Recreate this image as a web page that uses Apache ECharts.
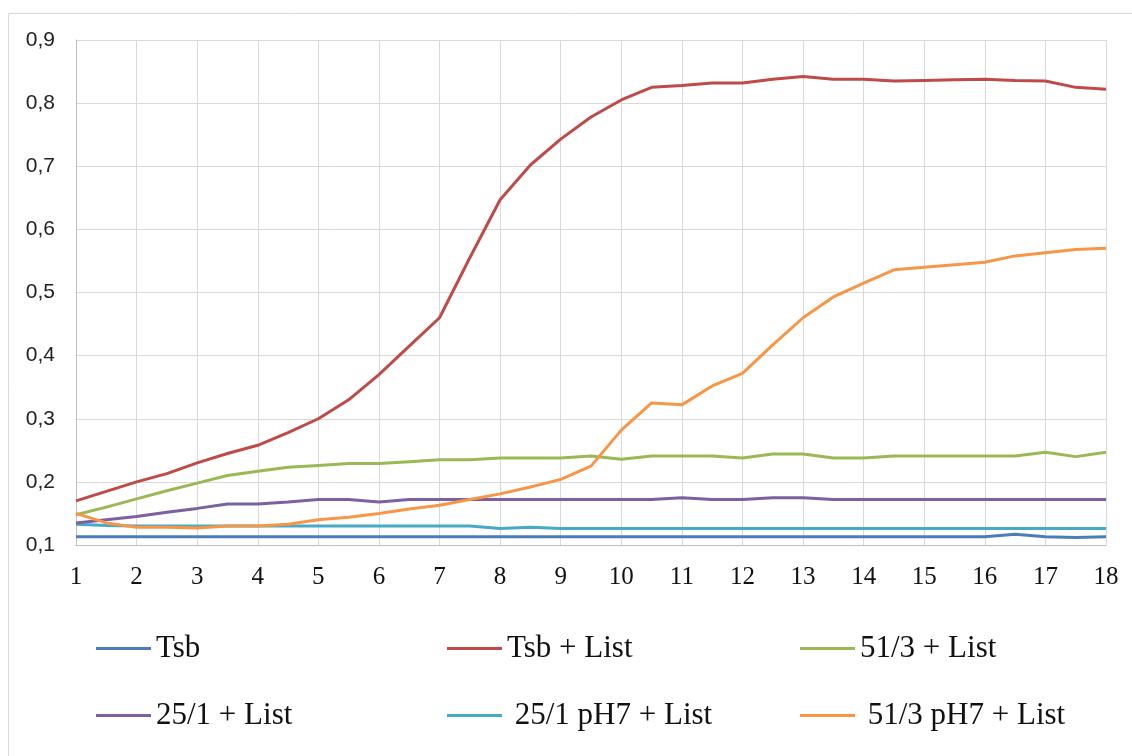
<!DOCTYPE html>
<html>
<head>
<meta charset="utf-8">
<script src="https://cdn.jsdelivr.net/npm/echarts@6/dist/echarts.min.js"></script>
<style>html,body{margin:0;padding:0;background:#fff}#c{width:1132px;height:756px}</style>
</head>
<body>
<div id="c"></div>
<script>
const xs = [1,1.5,2,2.5,3,3.5,4,4.5,5,5.5,6,6.5,7,7.5,8,8.5,9,9.5,10,10.5,11,11.5,12,12.5,13,13.5,14,14.5,15,15.5,16,16.5,17,17.5,18];
const seriesNames = ['Tsb','Tsb + List','51/3 + List','25/1 + List','25/1 pH7 + List','51/3 pH7 + List'];
const legendLabels = ['Tsb','Tsb + List','51/3 + List','25/1 + List',' 25/1 pH7 + List',' 51/3 pH7 + List'];
const tsb = [0.113,0.113,0.113,0.113,0.113,0.113,0.113,0.113,0.113,0.113,0.113,0.113,0.113,0.113,0.113,0.113,0.113,0.113,0.113,0.113,0.113,0.113,0.113,0.113,0.113,0.113,0.113,0.113,0.113,0.113,0.113,0.117,0.113,0.112,0.113];
const tsbList = [0.17,0.185,0.2,0.213,0.23,0.245,0.258,0.278,0.3,0.33,0.37,0.415,0.46,0.555,0.647,0.702,0.743,0.778,0.805,0.825,0.828,0.832,0.832,0.838,0.842,0.838,0.838,0.835,0.836,0.837,0.838,0.836,0.835,0.825,0.822];
const s513List = [0.148,0.16,0.173,0.186,0.198,0.21,0.217,0.223,0.226,0.229,0.229,0.232,0.235,0.235,0.238,0.238,0.238,0.241,0.236,0.241,0.241,0.241,0.238,0.244,0.244,0.238,0.238,0.241,0.241,0.241,0.241,0.241,0.247,0.24,0.247];
const s251List = [0.135,0.14,0.145,0.152,0.158,0.165,0.165,0.168,0.172,0.172,0.168,0.172,0.172,0.172,0.172,0.172,0.172,0.172,0.172,0.172,0.175,0.172,0.172,0.175,0.175,0.172,0.172,0.172,0.172,0.172,0.172,0.172,0.172,0.172,0.172];
const s251pH7 = [0.133,0.131,0.13,0.13,0.13,0.13,0.13,0.13,0.13,0.13,0.13,0.13,0.13,0.13,0.126,0.128,0.126,0.126,0.126,0.126,0.126,0.126,0.126,0.126,0.126,0.126,0.126,0.126,0.126,0.126,0.126,0.126,0.126,0.126,0.126];
const s513pH7 = [0.15,0.135,0.128,0.128,0.127,0.13,0.13,0.133,0.14,0.144,0.15,0.157,0.163,0.172,0.181,0.192,0.204,0.225,0.282,0.325,0.322,0.352,0.372,0.417,0.46,0.493,0.515,0.536,0.54,0.544,0.548,0.558,0.563,0.568,0.57];
const yTicks = ['0,1','0,2','0,3','0,4','0,5','0,6','0,7','0,8','0,9'];

const values = [tsb, tsbList, s513List, s251List, s251pH7, s513pH7];
const colors = ['#4a7ebb','#be4b48','#98b954','#7d60a0','#46aac5','#f79646'];

const chart = echarts.init(document.getElementById('c'), null, {renderer:'canvas'});

const series = values.map((v,i)=>({
  name: seriesNames[i],
  type: 'line',
  data: xs.map((x,j)=>[x, v[j]]),
  showSymbol: false,
  symbol: 'none',
  smooth: false,
  lineStyle: {color: colors[i], width: 3},
  itemStyle: {color: colors[i]},
  z: [1,6,4,3,2,5][i]
}));

const legends = [
  {names:[0], left:96, top:633},
  {names:[1], left:447, top:633},
  {names:[2], left:800, top:633},
  {names:[3], left:96, top:700},
  {names:[4], left:447, top:700},
  {names:[5], left:800, top:700}
].map(l=>({
  data: l.names.map(i=>seriesNames[i]),
  left: l.left, top: l.top,
  padding: 0,
  icon: 'rect', itemWidth: 55, itemHeight: 3, itemGap: 0,
  formatter: name => legendLabels[seriesNames.indexOf(name)],
  textStyle: {fontFamily: '"Liberation Serif", serif', fontSize: 31, color: '#111'}
}));

chart.setOption({
  animation: false,
  backgroundColor: '#fff',
  graphic: [{
    type: 'rect', shape: {x: 8.5, y: 13.5, width: 1200, height: 800},
    style: {fill: 'none', stroke: '#d9d9d9', lineWidth: 1}, z: -1
  }],
  grid: {left: 76, top: 40, width: 1030, height: 505, containLabel: false},
  legend: legends,
  xAxis: {
    type: 'value', min: 1, max: 18, interval: 1,
    axisLine: {show: true, lineStyle: {color: '#bfbfbf', width: 1}},
    axisTick: {show: false},
    splitLine: {show: true, lineStyle: {color: '#d9d9d9', width: 1}},
    axisLabel: {color: '#111', fontFamily: '"Liberation Serif", serif', fontSize: 25, margin: 20}
  },
  yAxis: {
    type: 'value', min: 0.1, max: 0.9, interval: 0.1,
    axisLine: {show: true, lineStyle: {color: '#bfbfbf', width: 1}},
    axisTick: {show: false},
    splitLine: {show: true, lineStyle: {color: '#d9d9d9', width: 1}},
    axisLabel: {color: '#222', fontFamily: '"Liberation Sans", sans-serif', fontSize: 21, margin: 21,
      formatter: v => yTicks[Math.round((v - 0.1) * 10)] || ''}
  },
  series: series
});
</script>
</body>
</html>
